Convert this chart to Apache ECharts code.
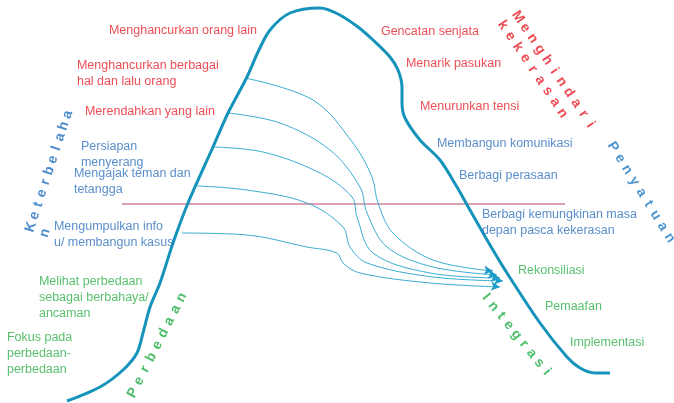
<!DOCTYPE html>
<html>
<head>
<meta charset="utf-8">
<script src="https://cdn.jsdelivr.net/npm/echarts@6/dist/echarts.min.js"></script>
<style>
  html, body { margin: 0; padding: 0; background: #fff; }
  #chart { width: 674px; height: 403px; }
</style>
</head>
<body>
<div id="chart"></div>
<script>
// diagram drawn on a hidden 674 x 403 value grid

const mountain = [[67,401],[100,387],[123,370],[137,353],[143,333],[150,307],[160,283],[173,243],[188,203],
  [213,147],[228,113],[247,77],[258,52],[270,30],[290,13],[320,8],[338,14],[358,27],[373,40],[390,57],
  [398,70],[402,87],[402,103],[405,118],[420,140],[440,160],[457,187],[470,210],[490,245],[507,273],
  [540,323],[567,357],[580,368],[595,373],[610,373]];

const divider = [[122,204],[565,204]];

const arrowPaths = [
  [[245,78],[313,100],[353,143],[372,177],[378,203],[393,233],[433,260],[493,271]],
  [[228,113],[280,123],[330,150],[360,187],[367,213],[387,247],[433,267],[497,275]],
  [[212,147],[263,152],[320,173],[352,197],[357,217],[373,253],[430,273],[500,278]],
  [[197,186],[247,190],[307,203],[343,227],[350,247],[367,263],[433,277],[503,281]],
  [[182,233],[247,235],[307,247],[337,253],[343,263],[360,273],[430,283],[500,287]]
];

// [left, top, text]
const redNotes = [
  [109,23,'Menghancurkan orang lain'],
  [77,58,'Menghancurkan berbagai\nhal dan lalu orang'],
  [85,104,'Merendahkan yang lain'],
  [381,24,'Gencatan senjata'],
  [406,56,'Menarik pasukan'],
  [420,99,'Menurunkan tensi']
];
const blueNotes = [
  [81,139,'Persiapan\nmenyerang'],
  [74,166,'Mengajak teman dan\ntetangga'],
  [54,219,'Mengumpulkan info\nu/ membangun kasus'],
  [437,136,'Membangun komunikasi'],
  [459,168,'Berbagi perasaan'],
  [482,207,'Berbagi kemungkinan masa\ndepan pasca kekerasan']
];
const greenNotes = [
  [39,274,'Melihat perbedaan\nsebagai berbahaya/\nancaman'],
  [7,330,'Fokus pada\nperbedaan-\nperbedaan'],
  [518,263,'Rekonsiliasi'],
  [545,299,'Pemaafan'],
  [570,335,'Implementasi']
];

// spaced words: text, first letter centre, direction (deg, screen), step
const spacedWords = [
  ['Menghindari', 518, 17, 56, 13.0, '#e8202a'],
  ['kekerasan', 503, 25, 56, 13.3, '#e8202a'],
  ['Penyatuan', 613, 147, 58, 13.4, '#1f7cc6'],
  ['Integrasi', 486, 297, 51, 12.1, '#22ae48'],
  ['Perbedaan', 133, 393, -63, 13.4, '#22ae48'],
  ['Keterbelaha', 31, 227, -72, 11.8, '#1f6fbf'],
  ['n', 45, 233, -72, 11.8, '#1f6fbf']
];

const RED = '#e8202a', BLUE = '#2f72be', GREEN = '#2eb04a';
const FONT = 'Liberation Sans, Arial, sans-serif';

function noteSeries(rows, color) {
  return {
    type: 'scatter',
    silent: true,
    symbolSize: 0.1,
    itemStyle: { color: 'transparent' },
    data: rows,
    label: {
      show: true,
      position: [0, 0],
      align: 'left',
      verticalAlign: 'top',
      formatter: p => p.value[2],
      color: color,
      fontFamily: FONT,
      fontSize: 12.5,
      lineHeight: 16
    },
    z: 5
  };
}

function letterData() {
  const out = [];
  spacedWords.forEach(w => {
    const rad = w[3] * Math.PI / 180;
    for (let i = 0; i < w[0].length; i++) {
      out.push({
        value: [w[1] + Math.cos(rad) * w[4] * i, w[2] + Math.sin(rad) * w[4] * i, w[0][i]],
        label: { rotate: -w[3], color: w[5] }
      });
    }
  });
  return out;
}

const arrowColor = '#3aaed3';
const arrowSeries = arrowPaths.map(path => ({
  type: 'line',
  silent: true,
  smooth: 0.35,
  symbol: 'none',
  showSymbol: true,
  lineStyle: { color: arrowColor, width: 1 },
  itemStyle: { color: '#1c9cc8' },
  data: path.map((pt, i) => i === path.length - 1
    ? { value: pt, symbol: 'arrow', symbolSize: [7, 9], symbolRotate: -95 }
    : { value: pt }),
  z: 3
}));

const chart = echarts.init(document.getElementById('chart'));
chart.setOption({
  backgroundColor: '#fff',
  animation: false,
  grid: { left: 0, right: 0, top: 0, bottom: 0 },
  xAxis: { type: 'value', min: 0, max: 674, show: false },
  yAxis: { type: 'value', min: 0, max: 403, inverse: true, show: false },
  series: [
    {
      type: 'line',
      silent: true,
      data: divider,
      symbol: 'none',
      lineStyle: { color: '#b5476a', width: 1.2 },
      z: 2
    },
    ...arrowSeries,
    {
      type: 'line',
      silent: true,
      smooth: 0.3,
      data: mountain,
      symbol: 'none',
      lineStyle: { color: '#1593bb', width: 3 },
      z: 4
    },
    noteSeries(redNotes, RED),
    noteSeries(blueNotes, BLUE),
    noteSeries(greenNotes, GREEN),
    {
      type: 'scatter',
      silent: true,
      symbolSize: 0.1,
      itemStyle: { color: 'transparent' },
      data: letterData(),
      label: {
        show: true,
        position: [0, 0],
        align: 'center',
        verticalAlign: 'middle',
        formatter: p => p.value[2],
        fontFamily: FONT,
        fontWeight: 'bold',
        fontSize: 14
      },
      z: 6
    }
  ]
});
</script>
</body>
</html>
